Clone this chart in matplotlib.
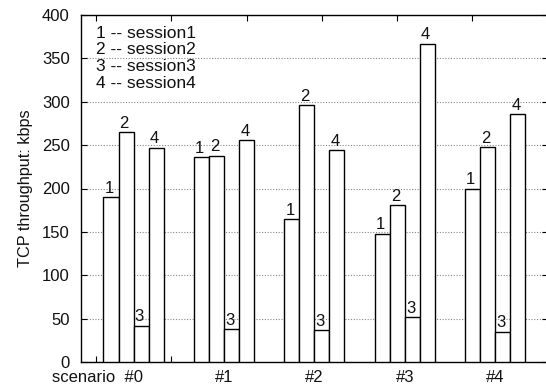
import matplotlib
matplotlib.use("Agg")
import matplotlib.pyplot as plt
import numpy as np

plt.rcParams['font.family'] = ['Liberation Sans', 'DejaVu Sans']

scenarios = ["#0", "#1", "#2", "#3", "#4"]
sessions = ["session1", "session2", "session3", "session4"]
session1 = [190, 236, 165, 148, 200]
session2 = [265, 238, 296, 181, 248]
session3 = [42, 38, 37, 52, 35]
session4 = [247, 256, 244, 367, 286]
series = [session1, session2, session3, session4]
yticks = [0, 50, 100, 150, 200, 250, 300, 350, 400]

FS = 12

fig = plt.figure(figsize=(5.46, 3.89), dpi=100)
ax = fig.add_axes([80.9 / 546, 27.0 / 389, 466.9 / 546, 347.0 / 389])

group_step = 6
bar_w = 1.0
for s, vals in enumerate(series):
    xs = np.arange(len(scenarios)) * group_step + 1 + s
    ax.bar(xs, vals, width=bar_w, facecolor='white', edgecolor='black',
           linewidth=1.0, zorder=3)
    for x, v in zip(xs, vals):
        ax.text(x - 0.12, v + 1.5, str(s + 1), ha='center', va='bottom',
                fontsize=FS, color='#111111', zorder=4)

ax.set_xlim(-1, 30)
ax.set_ylim(0, 400)
ax.set_yticks(yticks)
ax.set_yticklabels([str(t) for t in yticks], fontsize=FS, color='#111111')

centers = np.arange(len(scenarios)) * group_step + 2.5
labels = list(scenarios)
labels[0] = "scenario  #0"
pos = centers.copy()
pos[0] = 0.1
ax.set_xticks(pos)
ax.set_xticklabels(labels, fontsize=FS, color='#111111')
ax.tick_params(axis='x', which='major', length=0, pad=6)
ax.set_xticks(np.arange(0, 30, 5), minor=True)
ax.tick_params(axis='x', which='minor', direction='in', length=4,
               top=True, bottom=True, width=0.8)
ax.tick_params(axis='y', direction='in', length=4, left=True, right=True,
               width=0.8, pad=8)

ax.grid(axis='y', linestyle=(0, (1, 1.5)), color='#888888', linewidth=0.8,
        zorder=0)

ax.set_ylabel("TCP throughput: kbps", fontsize=11.7, color='#111111')
ax.yaxis.set_label_coords(-0.102, 0.5)

legend_y = [379, 360, 340.5, 321]
for i, (name, y) in enumerate(zip(sessions, legend_y)):
    ax.text(0, y, f"{i + 1} -- {name}", ha='left', va='center', fontsize=12.5,
            color='#111111', zorder=5)

for sp in ax.spines.values():
    sp.set_linewidth(1.0)

fig.savefig("out.png", dpi=100)
